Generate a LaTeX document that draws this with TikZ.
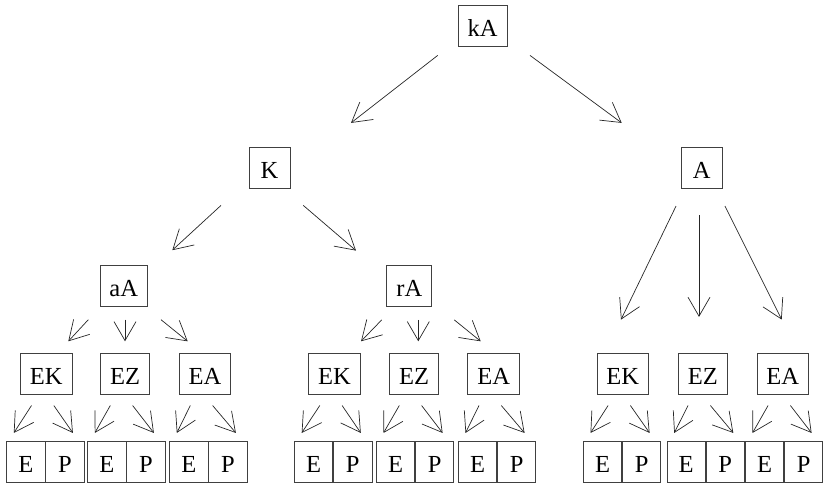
\documentclass[tikz,border=0pt]{standalone}
\usepackage{fontspec}
\setmainfont{Liberation Serif}
\usetikzlibrary{arrows.meta}
\begin{document}
\begin{tikzpicture}[x=1pt,y=-1pt,
  font=\fontsize{24.5}{27}\selectfont,
  box/.style={draw=black!75, line width=0.8pt, minimum height=41pt,
    minimum width=41pt, inner xsep=9.5pt, inner ysep=0pt,
    text height=22pt, text depth=0pt},
  cell/.style={draw=black!75, line width=0.8pt, minimum height=41.3pt,
    minimum width=38.3pt, inner sep=0pt, text height=21pt, text depth=0pt},
  arr/.style={draw=black!85, line width=0.7pt,
    -{Straight Barb[length=19pt,width=22pt]}}
]
\useasboundingbox (0,0) rectangle (823,483);

% upper levels
\node[box] (kA) at (482.7,25.5) {kA};
\node[box] (K)  at (269.5,167.8) {K};
\node[box] (A)  at (701.7,167.8) {A};
\node[box] (aA) at (123.7,285.8) {aA};
\node[box] (rA) at (409.3,285.5) {rA};

% third level
\foreach \g/\xk/\xz/\xa in {l/46.2/125/205, m/334.5/414/493.7, r/622.8/702.8/782.8}{
  \node[box] (EK\g) at (\xk,373.8) {EK};
  \node[box] (EZ\g) at (\xz,373.8) {EZ};
  \node[box] (EA\g) at (\xa,373.8) {EA};
}

% E/P cell pairs and their arrows
\foreach \p/\ex in {EKl/25.8, EZl/106.8, EAl/188.8,
                    EKm/313.7, EZm/395.5, EAm/477.5,
                    EKr/602.5, EZr/686.2, EAr/764.5}{
  \node[cell] (E-\p) at (\ex,461.7) {E};
  \node[cell,anchor=west] (P-\p) at (E-\p.east) {P};
  \draw[arr] ([xshift=-14.7pt,yshift=-10.8pt]\p.south) -- ([xshift=-12pt,yshift=7.7pt]E-\p.north);
  \draw[arr] ([xshift=7.6pt,yshift=-10.8pt]\p.south) -- ([xshift=8pt,yshift=7.7pt]P-\p.north);
}

% root to second level
\draw[arr] ([xshift=-45pt,yshift=-9pt]kA.south) -- ([xshift=81.5pt,yshift=24pt]K.north);
\draw[arr] ([xshift=47.3pt,yshift=-9pt]kA.south) -- ([xshift=-80pt,yshift=24pt]A.north);

% K to aA, rA
\draw[arr] ([xshift=-48.5pt,yshift=-16.7pt]K.south) -- ([xshift=48.6pt,yshift=14.7pt]aA.north);
\draw[arr] ([xshift=33.8pt,yshift=-16.7pt]K.south) -- ([xshift=-53.3pt,yshift=14pt]rA.north);

% aA to its children
\draw[arr] ([xshift=-35.4pt,yshift=-13pt]aA.south) -- ([xshift=22.1pt,yshift=11.6pt]EKl.north);
\draw[arr] ([xshift=1.3pt,yshift=-13pt]aA.south) -- ([yshift=11.6pt]EZl.north);
\draw[arr] ([xshift=37.3pt,yshift=-13pt]aA.south) -- ([xshift=-17.3pt,yshift=11.6pt]EAl.north);

% rA to its children
\draw[arr] ([xshift=-27.6pt,yshift=-13.5pt]rA.south) -- ([xshift=26.5pt,yshift=11.6pt]EKm.north);
\draw[arr] ([xshift=9pt,yshift=-13.5pt]rA.south) -- ([xshift=4.3pt,yshift=11.6pt]EZm.north);
\draw[arr] ([xshift=45pt,yshift=-13.5pt]rA.south) -- ([xshift=-13pt,yshift=11.6pt]EAm.north);

% A to its children
\draw[arr] ([xshift=-25.7pt,yshift=-17.4pt]A.south) -- ([xshift=-1.8pt,yshift=33.3pt]EKr.north);
\draw[arr] ([xshift=-2.7pt,yshift=-26.7pt]A.south) -- ([xshift=-3.8pt,yshift=36pt]EZr.north);
\draw[arr] ([xshift=23.3pt,yshift=-17.4pt]A.south) -- ([xshift=-1.1pt,yshift=33.3pt]EAr.north);
\end{tikzpicture}
\end{document}
